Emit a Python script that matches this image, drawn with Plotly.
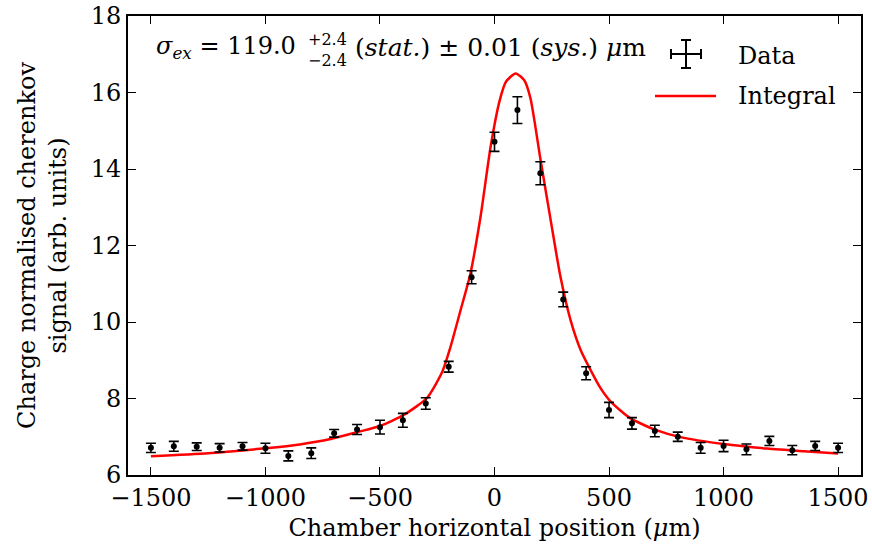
import plotly.graph_objects as go

# ---------------- data ----------------
position = [-1500, -1400, -1300, -1200, -1100, -1000, -900, -800, -700, -600,
            -500, -400, -300, -200, -100, 0, 100, 200, 300, 400,
            500, 600, 700, 800, 900, 1000, 1100, 1200, 1300, 1400, 1500]
signal = [6.71, 6.75, 6.74, 6.71, 6.75, 6.70, 6.50, 6.57, 7.09, 7.19,
          7.25, 7.43, 7.87, 8.83, 11.17, 14.71, 15.54, 13.89, 10.59, 8.66,
          7.70, 7.35, 7.15, 7.00, 6.71, 6.76, 6.67, 6.89, 6.65, 6.76, 6.71]
signal_err = [0.12, 0.13, 0.10, 0.11, 0.10, 0.13, 0.13, 0.14, 0.10, 0.13,
              0.18, 0.18, 0.15, 0.14, 0.17, 0.25, 0.35, 0.30, 0.19, 0.17,
              0.20, 0.15, 0.15, 0.12, 0.14, 0.15, 0.14, 0.12, 0.12, 0.12, 0.12]

fit_x = [-1500, -1250, -1000, -850, -716, -600, -500, -396, -294, -228,
         -192, -148, -105, -61, -17, 23, 50, 92, 130, 157,
         201, 245, 288, 332, 376, 419, 463, 507, 594, 703,
         812, 1001, 1191, 1350, 1500]
fit_y = [6.49, 6.57, 6.70, 6.80, 6.94, 7.12, 7.28, 7.57, 8.02, 8.70,
         9.35, 10.31, 11.27, 12.75, 14.58, 15.80, 16.28, 16.50, 16.32, 15.85,
         14.24, 12.67, 11.18, 10.05, 9.27, 8.75, 8.27, 7.92, 7.48, 7.18,
         6.99, 6.81, 6.69, 6.62, 6.56]

x_ticks = [-1500, -1000, -500, 0, 500, 1000, 1500]
y_ticks = [6, 8, 10, 12, 14, 16, 18]

FONT = "DejaVu Serif"
FS = 24

L, R, T, B = 128, 861, 16, 475        # plot area in page pixels
W, H = 872, 552


def px(xp):
    return (xp - L) / (R - L)


def py(yp):
    return (B - yp) / (B - T)


fig = go.Figure()

fig.add_trace(go.Scatter(
    x=fit_x, y=fit_y, mode="lines", name="Integral",
    line=dict(color="#ff0000", width=2.5, shape="spline", smoothing=0.6),
    showlegend=False, hoverinfo="skip"))

fig.add_trace(go.Scatter(
    x=position, y=signal, mode="markers", name="Data",
    marker=dict(color="black", size=6),
    error_y=dict(type="data", array=signal_err, color="black",
                 thickness=1.6, width=5),
    showlegend=False))

axis_common = dict(
    showline=True, linecolor="black", linewidth=2, mirror="allticks",
    ticks="inside", ticklen=8, tickwidth=1.2, tickcolor="black",
    showgrid=False, zeroline=False, automargin=False,
    ticklabeloverflow="allow",
    tickfont=dict(family=FONT, size=FS, color="black"),
)

fig.update_xaxes(range=[-1600, 1600], tickvals=x_ticks,
                 title=dict(text="Chamber horizontal position (<i>μ</i>m)",
                            font=dict(family=FONT, size=FS, color="black"),
                            standoff=8),
                 **axis_common)
fig.update_yaxes(range=[6, 18], tickvals=y_ticks,
                 title=dict(text="Charge normalised cherenkov<br>signal (arb. units)",
                            font=dict(family=FONT, size=FS, color="black"),
                            standoff=17),
                 **axis_common)

ann = []
# main text pieces
ann.append(dict(text="<i>σ</i><sub><i>ex</i></sub> = 119.0",
                x=px(298), y=py(47), xref="paper", yref="paper",
                xanchor="right", yanchor="middle", showarrow=False,
                font=dict(family=FONT, size=FS, color="black")))
ann.append(dict(text="+2.4<br>−2.4",
                x=px(306), y=py(50), xref="paper", yref="paper",
                xanchor="left", yanchor="middle", showarrow=False,
                align="left",
                font=dict(family=FONT, size=16, color="black")))
ann.append(dict(text="(<i>stat.</i>) ± 0.01 (<i>sys.</i>) <i>μ</i>m",
                x=px(353), y=py(47), xref="paper", yref="paper",
                xanchor="left", yanchor="middle", showarrow=False,
                font=dict(family=FONT, size=25, color="black")))
# legend labels
ann.append(dict(text="Data", x=px(736), y=py(56), xref="paper", yref="paper",
                xanchor="left", yanchor="middle", showarrow=False,
                font=dict(family=FONT, size=FS, color="black")))
ann.append(dict(text="Integral", x=px(736), y=py(96), xref="paper", yref="paper",
                xanchor="left", yanchor="middle", showarrow=False,
                font=dict(family=FONT, size=FS, color="black")))

shapes = []
lw = 2
cx, cy = 686, 54


def seg(x0, y0, x1, y1, color="black", width=lw):
    shapes.append(dict(type="line", xref="paper", yref="paper",
                       x0=px(x0), y0=py(y0), x1=px(x1), y1=py(y1),
                       line=dict(color=color, width=width)))


# data legend cross
seg(cx, cy - 14, cx, cy + 14)
seg(cx - 5, cy - 14, cx + 5, cy - 14)
seg(cx - 5, cy + 14, cx + 5, cy + 14)
seg(cx - 15, cy, cx + 15, cy)
seg(cx - 15, cy - 5, cx - 15, cy + 5)
seg(cx + 15, cy - 5, cx + 15, cy + 5)
# integral legend line
seg(655, 96, 716, 96, color="#ff0000", width=2.5)

fig.update_layout(
    width=W, height=H,
    margin=dict(l=L, r=W - R, t=T, b=H - B),
    paper_bgcolor="white", plot_bgcolor="white",
    font=dict(family=FONT, size=FS, color="black"),
    annotations=ann, shapes=shapes, showlegend=False,
)

fig.write_html(
    "out.html",
    config={"displayModeBar": False},
    post_script="document.body.style.margin='0px';"
                "document.body.style.overflow='hidden';",
)
